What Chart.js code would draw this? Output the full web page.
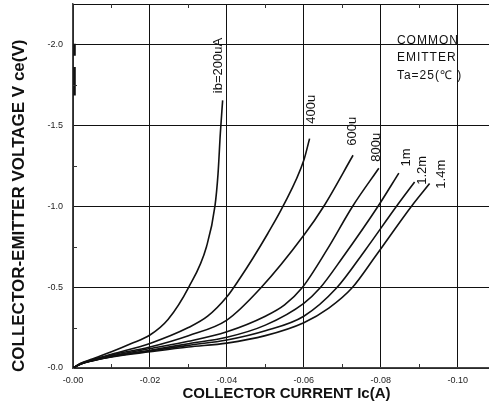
<!DOCTYPE html>
<html>
<head>
<meta charset="utf-8">
<script src="https://cdn.jsdelivr.net/npm/chart.js@4.4.1/dist/chart.umd.min.js"></script>
<style>
html, body { margin: 0; padding: 0; background: #fff; overflow: hidden; }
#wrap { width: 500px; height: 416px; }
</style>
</head>
<body>
<div id="wrap"><canvas id="chart" width="500" height="416"></canvas></div>
<script>
// Ic (A) / Vce (V) for each base current (PNP, so negative)
const seriesNames = ['ib=200uA', '400u', '600u', '800u', '1m', '1.2m', '1.4m'];

const ic200u  = [0, -0.002, -0.005, -0.01, -0.015, -0.02, -0.0247, -0.0301, -0.0347, -0.0369, -0.0377, -0.0383, -0.0389];
const vce200u = [0, -0.03, -0.055, -0.10, -0.15, -0.204, -0.30, -0.50, -0.75, -1.0, -1.2, -1.45, -1.654];

const ic400u  = [0, -0.002, -0.005, -0.01, -0.02, -0.03, -0.035, -0.04, -0.0434, -0.0468, -0.0506, -0.0546, -0.06, -0.0615];
const vce400u = [0, -0.027, -0.05, -0.085, -0.152, -0.25, -0.32, -0.44, -0.555, -0.68, -0.83, -1.0, -1.284, -1.418];

const ic600u  = [0, -0.002, -0.005, -0.01, -0.02, -0.03, -0.04, -0.0488, -0.06, -0.0652, -0.0728];
const vce600u = [0, -0.026, -0.048, -0.08, -0.13, -0.20, -0.296, -0.494, -0.82, -1.0, -1.315];

const ic800u  = [0, -0.002, -0.005, -0.01, -0.02, -0.03, -0.04, -0.05, -0.055, -0.0595, -0.066, -0.0727, -0.0795];
const vce800u = [0, -0.025, -0.047, -0.075, -0.12, -0.165, -0.224, -0.32, -0.39, -0.494, -0.73, -1.0, -1.235];

const ic1m  = [0, -0.002, -0.005, -0.01, -0.02, -0.03, -0.04, -0.05, -0.06, -0.0642, -0.07, -0.0793, -0.0847];
const vce1m = [0, -0.025, -0.046, -0.072, -0.11, -0.15, -0.19, -0.265, -0.40, -0.494, -0.68, -1.0, -1.205];

const ic1m2  = [0, -0.002, -0.005, -0.01, -0.02, -0.03, -0.04, -0.05, -0.06, -0.0685, -0.076, -0.0841, -0.0888];
const vce1m2 = [0, -0.024, -0.045, -0.07, -0.105, -0.14, -0.173, -0.23, -0.32, -0.494, -0.73, -1.0, -1.15];

const ic1m4  = [0, -0.002, -0.005, -0.01, -0.02, -0.03, -0.04, -0.05, -0.06, -0.0665, -0.0725, -0.0789, -0.088, -0.0927];
const vce1m4 = [0, -0.024, -0.044, -0.068, -0.10, -0.13, -0.154, -0.20, -0.28, -0.37, -0.494, -0.70, -1.0, -1.14];

const icSeries  = [ic200u, ic400u, ic600u, ic800u, ic1m, ic1m2, ic1m4];
const vceSeries = [vce200u, vce400u, vce600u, vce800u, vce1m, vce1m2, vce1m4];

// short dark stroke on the left axis near the top
const markIc  = [-0.0004, -0.0004, -0.0004, -0.0004, -0.0004];
const markVce = [-2.005, -1.93, null, -1.86, -1.685];

// where the curve labels sit (data units)
const labelIc  = [-0.0377, -0.0621, -0.0727, -0.079, -0.0868, -0.0909, -0.0958];
const labelVce = [-1.87, -1.599, -1.463, -1.364, -1.302, -1.222, -1.198];

const noteLines = ['COMMON', 'EMITTER', 'Ta=25(\u2103 )'];
const noteIc = -0.0842;
const noteVce = [-2.025, -1.92, -1.809];

const yTitle = 'COLLECTOR-EMITTER VOLTAGE V ce(V)';

const xMin = -0.111, yMin = -2.25;

function toPoints(xs, ys) {
    return xs.map((v, i) => ({ x: v, y: ys[i] }));
}

const datasets = icSeries.map((xs, i) => ({
    label: seriesNames[i],
    data: toPoints(xs, vceSeries[i]),
    borderColor: '#111',
    borderWidth: 1.6,
    pointRadius: 0,
    cubicInterpolationMode: 'monotone',
    fill: false
}));
datasets.push({
    label: 'mark',
    data: toPoints(markIc, markVce),
    borderColor: '#111',
    borderWidth: 2.5,
    pointRadius: 0,
    spanGaps: false
});

const isMajorX = v => Math.abs(Math.round(v * 100)) % 2 === 0;
const isMajorY = v => Math.abs(Math.round(v * 4)) % 2 === 0;

const extras = {
    id: 'extras',
    afterDraw(chart) {
        const { ctx, chartArea, scales: { x, y } } = chart;
        ctx.save();
        // minor ticks, pointing inwards
        ctx.strokeStyle = '#333';
        ctx.lineWidth = 1;
        x.ticks.forEach(t => {
            if (isMajorX(t.value)) return;
            const px = Math.round(x.getPixelForValue(t.value)) + 0.5;
            ctx.beginPath();
            ctx.moveTo(px, chartArea.bottom);
            ctx.lineTo(px, chartArea.bottom - 4);
            ctx.moveTo(px, chartArea.top);
            ctx.lineTo(px, chartArea.top + 4);
            ctx.stroke();
        });
        y.ticks.forEach(t => {
            if (isMajorY(t.value) || t.value <= yMin + 1e-9) return;
            const py = Math.round(y.getPixelForValue(t.value)) + 0.5;
            ctx.beginPath();
            ctx.moveTo(chartArea.left, py);
            ctx.lineTo(chartArea.left + 4, py);
            ctx.stroke();
        });

        // curve labels, rotated
        ctx.fillStyle = '#111';
        ctx.font = '13px "Liberation Sans", Arial, sans-serif';
        ctx.textAlign = 'center';
        ctx.textBaseline = 'middle';
        seriesNames.forEach((name, i) => {
            ctx.save();
            ctx.translate(x.getPixelForValue(labelIc[i]), y.getPixelForValue(labelVce[i]));
            ctx.rotate(-Math.PI / 2);
            ctx.fillText(name, 0, 0);
            ctx.restore();
        });

        // y axis title, reading upwards from the bottom of the plot
        ctx.save();
        ctx.font = 'bold 17px "Liberation Sans", Arial, sans-serif';
        ctx.textAlign = 'left';
        ctx.translate(19, chartArea.bottom + 4);
        ctx.rotate(-Math.PI / 2);
        ctx.fillText(yTitle, 0, 0);
        ctx.restore();

        // test conditions
        ctx.font = '12px "Liberation Sans", Arial, sans-serif';
        ctx.textAlign = 'left';
        if ('letterSpacing' in ctx) ctx.letterSpacing = '1px';
        noteLines.forEach((line, i) => {
            ctx.fillText(line, x.getPixelForValue(noteIc), y.getPixelForValue(noteVce[i]));
        });
        ctx.restore();
    }
};

const ctx = document.getElementById('chart').getContext('2d');
const chart = new Chart(ctx, {
    type: 'line',
    data: { datasets: datasets },
    plugins: [extras],
    options: {
        responsive: false,
        animation: false,
        devicePixelRatio: 1,
        layout: { padding: { top: 4, left: 0, right: 0, bottom: 0 } },
        plugins: {
            legend: { display: false },
            tooltip: { enabled: false }
        },
        scales: {
            x: {
                type: 'linear',
                min: xMin,
                max: 0,
                reverse: true,
                afterFit: scale => {
                    scale.height = 48;
                    scale.paddingLeft = 0;
                    scale.paddingRight = 0;
                },
                border: { display: true, color: '#444', width: 1.5 },
                grid: {
                    drawTicks: false,
                    color: c => isMajorX(c.tick.value) ? '#111' : 'rgba(0,0,0,0)',
                    lineWidth: 1
                },
                ticks: {
                    stepSize: 0.01,
                    autoSkip: false,
                    maxRotation: 0,
                    padding: 7,
                    color: '#222',
                    font: { family: '"Liberation Sans", Arial, sans-serif', size: 9 },
                    callback: v => isMajorX(v) ? '-' + Math.abs(v).toFixed(2) : ''
                },
                title: {
                    display: true,
                    text: 'COLLECTOR CURRENT Ic(A)',
                    color: '#111',
                    font: { family: '"Liberation Sans", Arial, sans-serif', size: 15, weight: 'bold' },
                    padding: { top: 0, bottom: 13 }
                }
            },
            y: {
                type: 'linear',
                min: yMin,
                max: 0,
                reverse: true,
                afterFit: scale => {
                    scale.width = 73;
                    scale.paddingTop = 0;
                    scale.paddingBottom = 0;
                },
                border: { display: true, color: '#444', width: 1.5 },
                grid: {
                    drawTicks: false,
                    color: c => (isMajorY(c.tick.value) || c.tick.value <= yMin + 1e-9) ? '#111' : 'rgba(0,0,0,0)',
                    lineWidth: 1
                },
                ticks: {
                    stepSize: 0.25,
                    autoSkip: false,
                    padding: 10,
                    color: '#222',
                    font: { family: '"Liberation Sans", Arial, sans-serif', size: 9 },
                    callback: v => isMajorY(v) ? '-' + Math.abs(v).toFixed(1) : ''
                },
                title: { display: false }
            }
        }
    }
});
</script>
</body>
</html>
